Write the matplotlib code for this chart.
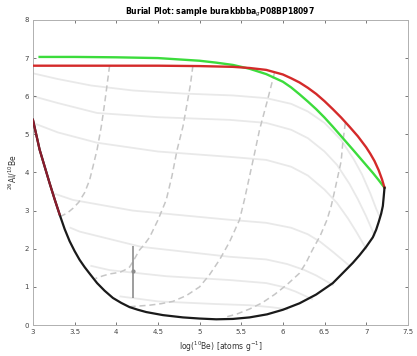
import matplotlib
matplotlib.use("Agg")
import matplotlib.pyplot as plt

# ---- data ----
red_x = [3.0, 3.5, 4.0, 4.5, 5.0, 5.4, 5.6, 5.8, 6.0, 6.1, 6.2, 6.3, 6.4, 6.5, 6.6, 6.7,
         6.8, 6.9, 7.0, 7.05, 7.1, 7.15, 7.19, 7.22]
red_y = [6.8, 6.8, 6.8, 6.8, 6.79, 6.77, 6.74, 6.69, 6.57, 6.47, 6.36, 6.22, 6.06, 5.87,
         5.66, 5.44, 5.2, 4.95, 4.66, 4.49, 4.3, 4.06, 3.82, 3.6]

green_x = [3.08, 3.5, 4.0, 4.5, 5.0, 5.2, 5.4, 5.6, 5.8, 6.0, 6.1, 6.2, 6.3, 6.4, 6.5,
           6.6, 6.7, 6.84, 6.95, 7.08, 7.15, 7.22]
green_y = [7.03, 7.03, 7.02, 7.0, 6.93, 6.88, 6.82, 6.72, 6.58, 6.38, 6.23, 6.05, 5.86,
           5.66, 5.44, 5.2, 4.95, 4.6, 4.32, 3.99, 3.8, 3.6]

black_x = [3.0, 3.08, 3.2, 3.26, 3.32, 3.38, 3.44, 3.5, 3.56, 3.62, 3.68, 3.77, 3.86, 3.96,
           4.06, 4.16, 4.26, 4.36, 4.56, 4.8, 5.0, 5.2, 5.4, 5.6, 5.81, 6.0, 6.2, 6.4,
           6.6, 6.7, 6.84, 6.92, 7.0, 7.08, 7.12, 7.15, 7.18, 7.2, 7.21, 7.22]
black_y = [5.38, 4.6, 3.72, 3.3, 2.9, 2.52, 2.2, 1.94, 1.71, 1.52, 1.35, 1.1, 0.9, 0.71,
           0.58, 0.47, 0.4, 0.34, 0.26, 0.2, 0.17, 0.15, 0.16, 0.2, 0.28, 0.4, 0.57, 0.8,
           1.1, 1.32, 1.63, 1.83, 2.05, 2.3, 2.5, 2.7, 2.92, 3.12, 3.35, 3.6]

iso_x = [
    [3.0, 3.3, 3.7, 4.2, 4.8, 5.4, 5.8, 6.1, 6.3, 6.5, 6.7, 6.85, 6.95, 7.05, 7.12, 7.16],
    [3.0, 3.3, 3.77, 4.5, 5.36, 5.8, 6.1, 6.3, 6.5, 6.65, 6.8, 6.9, 7.0, 7.07, 7.1],
    [3.0, 3.3, 3.77, 4.5, 5.36, 5.8, 6.1, 6.3, 6.5, 6.65, 6.78, 6.88, 6.96, 7.0],
    [3.25, 3.48, 4.2, 5.36, 5.8, 6.1, 6.3, 6.45, 6.6, 6.72, 6.8],
    [3.45, 3.56, 4.3, 5.36, 5.8, 6.05, 6.25, 6.4, 6.52, 6.6],
    [3.7, 3.92, 4.6, 5.36, 5.8, 6.0, 6.15, 6.27, 6.35],
    [4.05, 4.5, 5.2, 5.6, 5.85, 6.0, 6.05],
]
iso_y = [
    [6.6, 6.45, 6.28, 6.15, 6.07, 6.02, 5.95, 5.8, 5.6, 5.3, 4.85, 4.35, 3.95, 3.45, 3.05, 2.85],
    [6.0, 5.82, 5.56, 5.45, 5.38, 5.3, 5.12, 4.9, 4.55, 4.2, 3.7, 3.3, 2.85, 2.5, 2.35],
    [5.3, 5.05, 4.78, 4.55, 4.41, 4.33, 4.15, 3.92, 3.55, 3.2, 2.8, 2.45, 2.15, 2.0],
    [3.45, 3.28, 3.0, 2.76, 2.68, 2.55, 2.38, 2.18, 1.92, 1.7, 1.55],
    [2.55, 2.45, 2.05, 1.79, 1.72, 1.6, 1.45, 1.3, 1.15, 1.05],
    [1.55, 1.44, 1.28, 1.18, 1.1, 1.0, 0.88, 0.76, 0.68],
    [0.75, 0.62, 0.55, 0.52, 0.47, 0.43, 0.41],
]

dash_x = [
    [3.92, 3.89, 3.86, 3.82, 3.77, 3.72, 3.68, 3.62, 3.55, 3.48, 3.42, 3.37, 3.33],
    [4.92, 4.89, 4.85, 4.8, 4.73, 4.67, 4.6, 4.5, 4.4, 4.34, 4.28, 4.22, 4.16, 4.1, 4.05,
     3.98, 3.92, 3.84, 3.75],
    [5.9, 5.81, 5.72, 5.66, 5.6, 5.54, 5.48, 5.36, 5.24, 5.12, 5.0, 4.84, 4.68, 4.54, 4.4,
     4.28, 4.16],
    [6.75, 6.72, 6.7, 6.66, 6.62, 6.58, 6.53, 6.45, 6.35, 6.28, 6.2, 6.05, 5.9, 5.75, 5.6,
     5.45, 5.3],
]
dash_y = [
    [6.8, 6.3, 5.8, 5.2, 4.6, 4.15, 3.8, 3.47, 3.22, 3.06, 2.95, 2.89, 2.85],
    [6.8, 6.3, 5.8, 5.2, 4.59, 3.92, 3.28, 2.75, 2.3, 2.12, 1.97, 1.74, 1.52, 1.44, 1.39,
     1.36, 1.34, 1.29, 1.22],
    [6.62, 5.85, 5.12, 4.5, 3.9, 3.3, 2.76, 2.18, 1.71, 1.32, 1.0, 0.77, 0.62, 0.56, 0.52,
     0.5, 0.48],
    [5.3, 4.8, 4.3, 3.9, 3.5, 3.12, 2.76, 2.35, 1.95, 1.64, 1.36, 1.06, 0.8, 0.58, 0.42,
     0.29, 0.2],
]

sample_x = [4.2]
sample_y = [1.41]
sample_err_lo = [0.69]
sample_err_hi = [0.66]

xticks = [3, 3.5, 4, 4.5, 5, 5.5, 6, 6.5, 7, 7.5]
xticklabels = ["3", "3.5", "4", "4.5", "5", "5.5", "6", "6.5", "7", "7.5"]
yticks = [0, 1, 2, 3, 4, 5, 6, 7, 8]

# ---- figure ----
fig = plt.figure(figsize=(4.17, 3.56), dpi=100)
ax = fig.add_axes([0.079, 0.087, 0.899, 0.857])

for xs, ys in zip(iso_x, iso_y):
    ax.plot(xs, ys, color="#e9e9e9", lw=1.3, zorder=1)
for xs, ys in zip(dash_x, dash_y):
    ax.plot(xs, ys, color="#c6c6c6", lw=1.1, ls=(0, (4, 2.5)), zorder=2)

ax.plot(green_x, green_y, color="#3cdc3c", lw=1.7, zorder=4)
ax.plot(red_x, red_y, color="#d42a2a", lw=1.7, zorder=5)
ax.plot(black_x, black_y, color="#1a1a1a", lw=1.6, zorder=5)
ax.plot(black_x[:5], black_y[:5], color="#8a1c2c", lw=1.6, zorder=6)

ax.errorbar(sample_x, sample_y, yerr=[sample_err_lo, sample_err_hi], fmt="o",
            ms=2, color="#8c8c8c", ecolor="#8c8c8c", elinewidth=1.2, capsize=0, zorder=7)

ax.set_xlim(3, 7.5)
ax.set_ylim(0, 8)
ax.set_xticks(xticks)
ax.set_xticklabels(xticklabels)
ax.set_yticks(yticks)
ax.tick_params(direction="in", length=2.5, width=0.5, labelsize=5, colors="#444444",
               top=True, right=True, pad=3)
for s in ax.spines.values():
    s.set_color("#b0b0b0")
    s.set_linewidth(0.7)

ax.set_title("Burial Plot: sample burakbbba$_g$P08BP18097", fontsize=5.5,
             fontweight="bold", pad=4)
ax.set_xlabel("log($^{10}$Be) [atoms g$^{-1}$]", fontsize=5.5, color="#333333", labelpad=3)
ax.set_ylabel("$^{26}$Al/$^{10}$Be", fontsize=5.5, color="#333333", labelpad=4)

fig.savefig("out.png", dpi=100)
